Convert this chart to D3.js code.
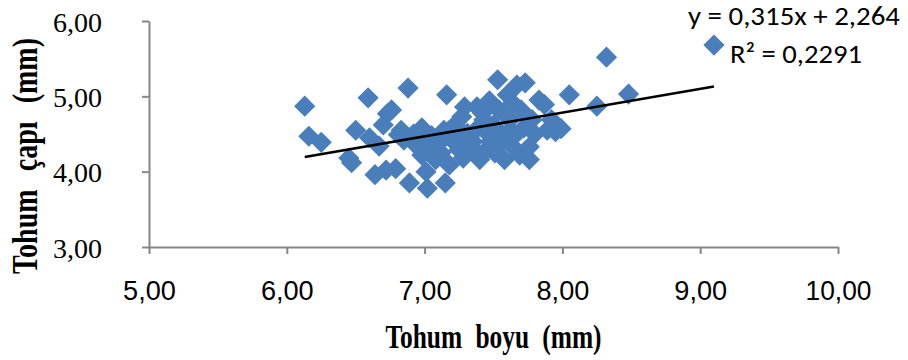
<!DOCTYPE html>
<html>
<head>
<meta charset="utf-8">
<script src="https://cdn.jsdelivr.net/npm/d3@7"></script>
<style>
  html, body { margin: 0; padding: 0; background: #fff; }
  svg { display: block; }
</style>
</head>
<body>
<svg id="chart" width="908" height="360"></svg>
<script>
// Seed length (x, mm) and seed diameter (y, mm)
const seedLength = [
  6.13, 6.16, 6.25, 6.45, 6.47, 6.50, 6.59, 6.64, 6.67, 6.70,
  6.73, 6.76, 6.72, 6.79, 6.81, 6.83, 6.88, 6.89, 6.95, 6.98,
  7.00, 7.02, 7.01, 7.04, 7.08, 7.11, 7.14, 7.15, 7.16, 7.18,
  7.20, 7.22, 7.25, 7.27, 7.29, 7.31, 7.33, 7.36, 7.37, 7.38,
  7.40, 7.43, 7.46, 7.47, 7.50, 7.51, 7.53, 7.54, 7.56, 7.58,
  7.60, 7.62, 7.63, 7.64, 7.66, 7.67, 7.69, 7.70, 7.72, 7.73,
  7.76, 7.78, 7.80, 7.83, 7.76, 7.87, 7.89, 7.92, 7.95, 7.99,
  8.05, 8.25, 8.32, 8.48, 9.10, 7.05, 7.25, 7.35, 7.45, 7.55,
  6.92, 6.98, 7.12, 7.28, 7.42, 6.60, 7.62, 7.48, 6.85, 7.18
];
const seedDiameter = [
  4.87, 4.47, 4.39, 4.18, 4.12, 4.55, 4.98, 3.96, 4.34, 4.62,
  4.77, 4.82, 4.02, 4.04, 4.49, 4.55, 5.11, 3.85, 4.33, 4.22,
  4.42, 3.78, 4.00, 4.35, 4.16, 4.39, 4.55, 3.85, 5.02, 4.09,
  4.42, 4.62, 4.29, 4.73, 4.86, 4.51, 4.34, 4.26, 4.55, 4.86,
  4.16, 4.69, 4.31, 4.94, 4.62, 4.25, 5.22, 4.82, 4.49, 4.16,
  5.02, 4.69, 4.35, 4.91, 4.49, 5.15, 4.22, 4.82, 4.58, 5.18,
  4.33, 4.69, 4.50, 4.95, 4.16, 4.89, 4.55, 4.69, 4.53, 4.57,
  5.02, 4.87, 5.52, 5.03, 5.68, 4.48, 4.45, 4.40, 4.52, 4.38,
  4.50, 4.58, 4.25, 4.18, 4.78, 4.45, 4.55, 4.40, 4.42, 4.55
];
const xTicks = [5, 6, 7, 8, 9, 10];
const yTicks = [3, 4, 5, 6];
// Linear trend reported on the chart
const trendSlope = 0.315;
const trendIntercept = 2.264;
const trendR2 = "0,2291";

const svg = d3.select("#chart");
const locale = d3.formatLocale({ decimal: ",", thousands: ".", grouping: [3], currency: ["", ""] });
const fmt = locale.format(".2f");
const fmt3 = locale.format(".3f");

const x = d3.scaleLinear().domain([5, 10]).range([149, 838]);
const y = d3.scaleLinear().domain([3, 6]).range([247, 21]);
const axisColor = "#868686";

// Y axis
const gy = svg.append("g").attr("transform", `translate(${x(5)},0)`)
  .call(d3.axisLeft(y).tickValues(yTicks).tickFormat(fmt).tickSize(7).tickSizeOuter(0).tickPadding(40));
gy.select(".domain").attr("stroke", axisColor).attr("stroke-width", 2);
gy.selectAll(".tick line").attr("stroke", axisColor).attr("stroke-width", 2);
gy.selectAll(".tick text")
  .attr("font-family", "'Liberation Serif', 'Times New Roman', serif")
  .attr("font-size", 28).attr("fill", "#000").attr("dy", "0.36em");

// X axis
const gx = svg.append("g").attr("transform", `translate(0,${y(3)})`)
  .call(d3.axisBottom(x).tickValues(xTicks).tickFormat(fmt).tickSize(7).tickSizeOuter(0).tickPadding(26));
gx.select(".domain").attr("stroke", axisColor).attr("stroke-width", 2);
gx.selectAll(".tick line").attr("stroke", axisColor).attr("stroke-width", 2);
gx.selectAll(".tick text")
  .attr("font-family", "'Liberation Sans', Arial, sans-serif")
  .attr("font-size", 28).attr("fill", "#000")
  .attr("transform", "scale(0.95,1)")
  .attr("x", function(d) { return 0; });
// keep condensed labels centred on their ticks
gx.selectAll(".tick text").attr("transform", null)
  .attr("textLength", d => fmt(d).length * 13.2).attr("lengthAdjust", "spacingAndGlyphs");

// Data points (square markers turned 45°)
const pts = seedLength.map((v, i) => [v, seedDiameter[i]]);
const marker = d3.symbol().type(d3.symbolSquare).size(225);
svg.append("g").selectAll("path").data(pts).join("path")
  .attr("d", marker)
  .attr("transform", d => `translate(${x(d[0])},${y(d[1])}) rotate(45)`)
  .attr("fill", "#4A7EBB");

// Trend line over the data range
const xmin = d3.min(seedLength), xmax = d3.max(seedLength);
svg.append("line")
  .attr("x1", x(xmin)).attr("y1", y(trendSlope * xmin + trendIntercept))
  .attr("x2", x(xmax)).attr("y2", y(trendSlope * xmax + trendIntercept))
  .attr("stroke", "#000").attr("stroke-width", 2.6);

// Trend equation
const eqFont = "Carlito, 'Liberation Sans', Arial, sans-serif";
svg.append("text").attr("x", 688).attr("y", 25)
  .attr("font-family", eqFont).attr("font-size", 27)
  .attr("textLength", 212).attr("lengthAdjust", "spacingAndGlyphs")
  .text(`y = ${fmt3(trendSlope)}x + ${fmt3(trendIntercept)}`);
svg.append("text").attr("x", 730).attr("y", 63)
  .attr("font-family", eqFont).attr("font-size", 27)
  .attr("textLength", 132).attr("lengthAdjust", "spacingAndGlyphs")
  .text(`R² = ${trendR2}`);

// Axis titles
const titleFont = "'Liberation Serif', 'Times New Roman', serif";
svg.append("text")
  .attr("transform", `translate(${(x(5) + x(10)) / 2},348) scale(0.77,1)`)
  .attr("text-anchor", "middle")
  .attr("font-family", titleFont).attr("font-weight", "bold").attr("font-size", 33)
  .attr("word-spacing", 9)
  .text("Tohum boyu (mm)");
svg.append("text")
  .attr("transform", `translate(37,${(y(3) + y(6)) / 2 + 22}) rotate(-90) scale(0.8,1)`)
  .attr("text-anchor", "middle")
  .attr("font-family", titleFont).attr("font-weight", "bold").attr("font-size", 35)
  .attr("word-spacing", 14)
  .text("Tohum çapı (mm)");
</script>
</body>
</html>
